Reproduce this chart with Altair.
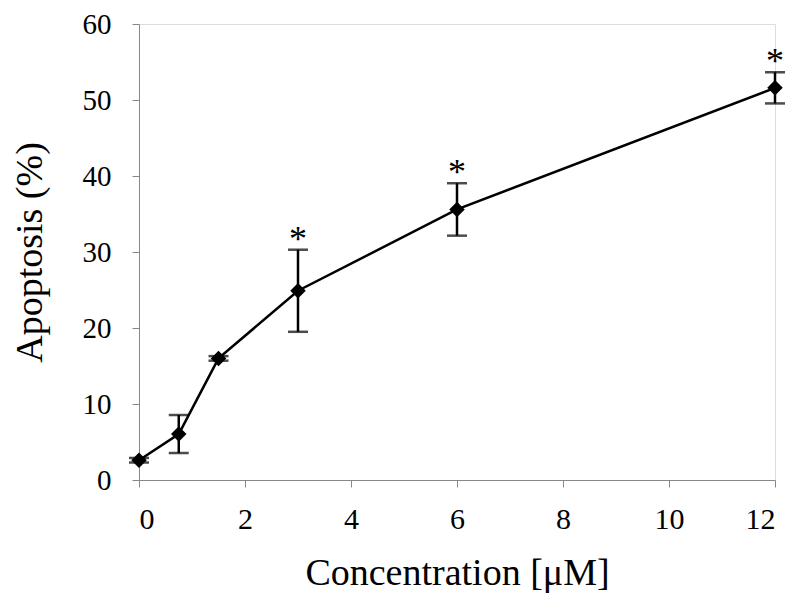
import altair as alt
import pandas as pd

conc = [0.0, 0.75, 1.5, 3.0, 6.0, 12.0]
apoptosis = [2.6, 6.05, 16.0, 24.9, 35.6, 51.6]
err = [0.3, 2.5, 0.3, 5.4, 3.45, 2.05]
star = ["", "", "", "*", "*", "*"]

df = pd.DataFrame({"conc": conc, "apop": apoptosis, "err": err, "star": star})
df["lo"] = df["apop"] - df["err"]
df["hi"] = df["apop"] + df["err"]

FONT = "Liberation Serif"

x = alt.X("conc:Q", scale=alt.Scale(domain=[0, 12], nice=False),
          axis=alt.Axis(values=[0, 2, 4, 6, 8, 10, 12], title="Concentration [μM]",
                        grid=False, domainColor="#888888", tickColor="#888888",
                        tickSize=7, labelPadding=17, labelFontSize=30,
                        titleFontSize=38, titlePadding=20, labelColor="black",
                        titleColor="black", titleFontWeight="normal",
                        labelFont=FONT, titleFont=FONT))
y = alt.Y("apop:Q", scale=alt.Scale(domain=[0, 60], nice=False),
          axis=alt.Axis(values=[0, 10, 20, 30, 40, 50, 60], title="Apoptosis (%)",
                        grid=False, domainColor="#888888", tickColor="#888888",
                        tickSize=7, labelPadding=21, labelFontSize=29,
                        titleFontSize=38, titlePadding=33, labelColor="black",
                        titleColor="black", titleFontWeight="normal",
                        labelFont=FONT, titleFont=FONT))

base = alt.Chart(df)

line = base.mark_line(color="black", strokeWidth=2.5).encode(x=x, y=y)
pts = base.mark_point(shape="diamond", filled=True, color="black", size=240, opacity=1).encode(x=x, y=y)
bars = base.mark_rule(color="black", strokeWidth=2.5).encode(x="conc:Q", y="lo:Q", y2="hi:Q")
cap_hi = base.mark_tick(color="black", orient="horizontal", size=20, thickness=2.5).encode(x="conc:Q", y="hi:Q")
cap_lo = base.mark_tick(color="black", orient="horizontal", size=20, thickness=2.5).encode(x="conc:Q", y="lo:Q")
stars = base.mark_text(font=FONT, fontSize=36, color="black", baseline="alphabetic", dy=1).encode(
    x="conc:Q", y="hi:Q", text="star:N")

chart = alt.layer(line, bars, cap_hi, cap_lo, pts, stars).properties(
    width=636, height=456,
    autosize=alt.AutoSizeParams(type="none"),
    padding={"left": 131, "top": 16, "right": 17, "bottom": 114},
).configure_view(stroke=None).configure(background="white")

chart.save("out.html", embed_options={"renderer": "svg", "actions": False})
